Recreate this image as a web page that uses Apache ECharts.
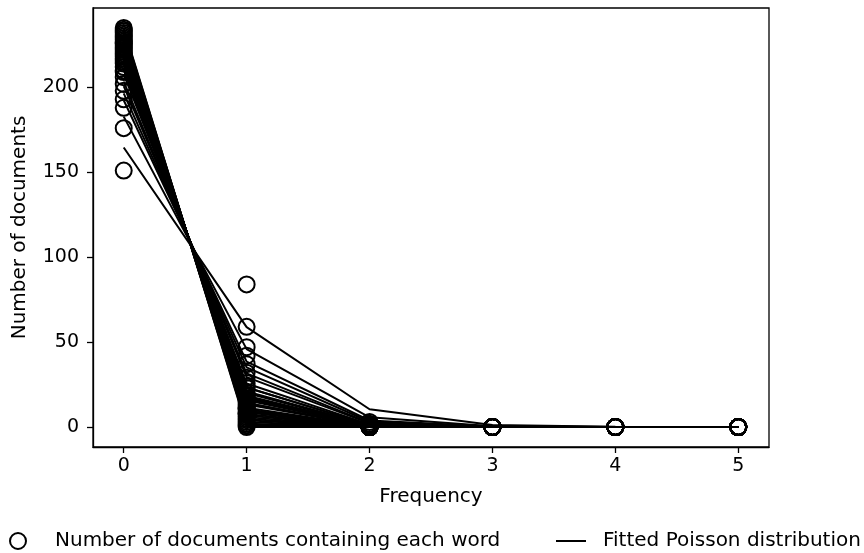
<!DOCTYPE html>
<html>
<head>
<meta charset="utf-8">
<script src="https://cdn.jsdelivr.net/npm/echarts@6/dist/echarts.min.js"></script>
<style>
html,body{margin:0;padding:0;background:#fff;}
#chart{width:864px;height:553px;}
</style>
</head>
<body>
<div id="chart"></div>
<script>
// Frequencies (x axis categories as numbers)
const frequencies = [0, 1, 2, 3, 4, 5];
const xTicks = [0, 1, 2, 3, 4, 5];
const yTicks = [0, 50, 100, 150, 200];

// Observed number of documents containing each word 0..5 times
const observedCounts = [
  [151, 84, 0, 0, 0, 0],
  [176, 59, 0, 0, 0, 0],
  [188, 47, 0, 0, 0, 0],
  [193, 42, 0, 0, 0, 0],
  [198, 37, 0, 0, 0, 0],
  [202, 32, 1, 0, 0, 0],
  [206, 29, 0, 0, 0, 0],
  [209, 26, 0, 0, 0, 0],
  [210, 24, 1, 0, 0, 0],
  [212, 23, 0, 0, 0, 0],
  [214, 20, 1, 0, 0, 0],
  [215, 18, 1, 0, 0, 0],
  [216, 19, 0, 0, 0, 0],
  [219, 13, 3, 0, 0, 0],
  [217, 16, 1, 0, 0, 0],
  [218, 17, 0, 0, 0, 0],
  [220, 15, 0, 0, 0, 0],
  [222, 11, 2, 0, 0, 0],
  [221, 14, 0, 0, 0, 0],
  [223, 12, 0, 0, 0, 0],
  [224, 11, 0, 0, 0, 0],
  [225, 10, 0, 0, 0, 0],
  [226, 8, 1, 0, 0, 0],
  [226, 9, 0, 0, 0, 0],
  [227, 8, 0, 0, 0, 0],
  [228, 7, 0, 0, 0, 0],
  [229, 6, 0, 0, 0, 0],
  [230, 5, 0, 0, 0, 0],
  [231, 4, 0, 0, 0, 0],
  [232, 3, 0, 0, 0, 0],
  [233, 2, 0, 0, 0, 0],
  [234, 1, 0, 0, 0, 0],
  [235, 0, 0, 0, 0, 0]
];

// Fitted Poisson distribution for each word
const fittedCounts = [
  [164.6, 58.8, 10.5, 1.25, 0.11, 0.01],
  [182.8, 45.9, 5.76, 0.48, 0.03, 0],
  [192.4, 38.5, 3.85, 0.26, 0.01, 0],
  [196.5, 35.1, 3.14, 0.19, 0.01, 0],
  [200.8, 31.6, 2.49, 0.13, 0, 0],
  [203.4, 29.4, 2.13, 0.10, 0, 0],
  [207.7, 25.6, 1.58, 0.07, 0, 0],
  [210.4, 23.3, 1.29, 0.05, 0, 0],
  [210.4, 23.3, 1.29, 0.05, 0, 0],
  [213.1, 20.9, 1.02, 0.03, 0, 0],
  [214.0, 20.0, 0.94, 0.03, 0, 0],
  [215.8, 18.4, 0.78, 0.02, 0, 0],
  [216.7, 17.5, 0.71, 0.02, 0, 0],
  [216.7, 17.5, 0.71, 0.02, 0, 0],
  [217.7, 16.7, 0.64, 0.02, 0, 0],
  [218.6, 15.8, 0.57, 0.01, 0, 0],
  [220.5, 14.1, 0.45, 0.01, 0, 0],
  [220.5, 14.1, 0.45, 0.01, 0, 0],
  [221.4, 13.2, 0.39, 0.01, 0, 0],
  [223.3, 11.4, 0.29, 0, 0, 0],
  [224.3, 10.5, 0.25, 0, 0, 0],
  [225.2, 9.6, 0.20, 0, 0, 0],
  [225.2, 9.6, 0.20, 0, 0, 0],
  [226.2, 8.66, 0.17, 0, 0, 0],
  [227.1, 7.73, 0.13, 0, 0, 0],
  [228.1, 6.79, 0.10, 0, 0, 0],
  [229.1, 5.84, 0.07, 0, 0, 0],
  [230.0, 4.89, 0.05, 0, 0, 0],
  [231.0, 3.93, 0.03, 0, 0, 0],
  [232.0, 2.96, 0.02, 0, 0, 0],
  [233.0, 1.98, 0.01, 0, 0, 0],
  [234.0, 1.0, 0, 0, 0, 0],
  [235.0, 0, 0, 0, 0, 0]
];

const OBS_NAME = 'Number of documents containing each word';
const FIT_NAME = 'Fitted Poisson distribution';
const FONT = 'DejaVu Sans';

const scatterData = [];
observedCounts.forEach(row => row.forEach((v, i) => scatterData.push([frequencies[i], v])));

const series = [{
  name: OBS_NAME,
  type: 'scatter',
  data: scatterData,
  symbol: 'circle',
  symbolSize: 16,
  itemStyle: { color: 'rgba(0,0,0,0)', borderColor: '#000', borderWidth: 2, opacity: 1 },
  z: 2,
  silent: true
}];
fittedCounts.forEach(row => {
  series.push({
    name: FIT_NAME,
    type: 'line',
    data: row.map((v, i) => [frequencies[i], v]),
    showSymbol: false,
    symbol: 'none',
    lineStyle: { color: '#000', width: 2, opacity: 1 },
    itemStyle: { color: '#000' },
    z: 3,
    silent: true
  });
});

const chart = echarts.init(document.getElementById('chart'), null, { renderer: 'canvas' });
chart.setOption({
  animation: false,
  backgroundColor: '#fff',
  grid: { left: 93, top: 8, width: 676, height: 439, show: true, borderColor: '#000', borderWidth: 1.3, backgroundColor: 'transparent' },
  xAxis: {
    type: 'value', min: -0.25, max: 5.25,
    name: 'Frequency', nameLocation: 'middle', nameGap: 40,
    nameTextStyle: { fontFamily: FONT, fontSize: 20, color: '#000' },
    axisLine: { show: true, onZero: false, lineStyle: { color: '#000', width: 1.3 } },
    axisTick: { show: true, length: 6, customValues: xTicks, lineStyle: { color: '#000', width: 1.3 } },
    axisLabel: { customValues: xTicks, margin: 10, fontFamily: FONT, fontSize: 19, color: '#000' },
    splitLine: { show: false }
  },
  yAxis: {
    type: 'value', min: -11.75, max: 246.75,
    name: 'Number of documents', nameLocation: 'middle', nameGap: 63, nameRotate: 90,
    nameTextStyle: { fontFamily: FONT, fontSize: 20, color: '#000' },
    axisLine: { show: true, onZero: false, lineStyle: { color: '#000', width: 1.3 } },
    axisTick: { show: true, length: 6, customValues: yTicks, lineStyle: { color: '#000', width: 1.3 } },
    axisLabel: { customValues: yTicks, margin: 14, fontFamily: FONT, fontSize: 19, color: '#000' },
    splitLine: { show: false }
  },
  legend: [{
    left: 4, top: 526,
    itemWidth: 16, itemHeight: 16, itemGap: 10,
    data: [{ name: OBS_NAME, icon: 'circle', itemStyle: { color: '#fff', borderColor: '#000', borderWidth: 2 } }],
    textStyle: { fontFamily: FONT, fontSize: 20, color: '#000', padding: [0, 0, 0, 24] },
    selectedMode: false
  }, {
    left: 551, top: 526,
    itemWidth: 30, itemHeight: 2,
    data: [{ name: FIT_NAME, icon: 'rect', itemStyle: { color: '#000' } }],
    textStyle: { fontFamily: FONT, fontSize: 20, color: '#000', padding: [0, 0, 0, 12] },
    selectedMode: false
  }],
  series: series
});
</script>
</body>
</html>
